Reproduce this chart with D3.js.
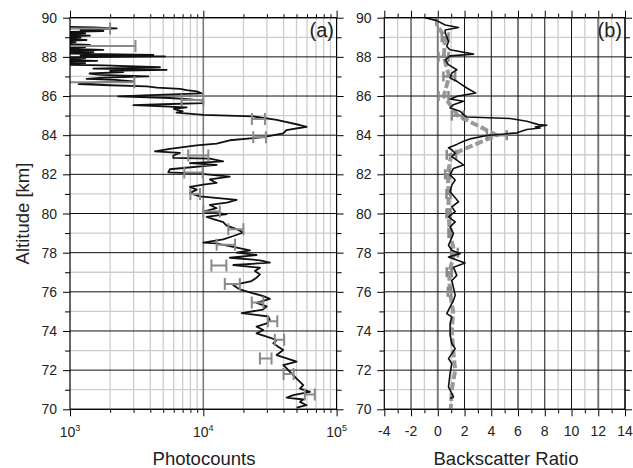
<!DOCTYPE html>
<html>
<head>
<meta charset="utf-8">
<script src="https://cdn.jsdelivr.net/npm/d3@7"></script>
<style>
  body { margin: 0; background: #fff; }
  text { font-family: Arial, "Liberation Sans", sans-serif; fill: #222; }
</style>
</head>
<body>
<svg id="chart" width="633" height="468"></svg>
<script>
// panel (a): photocount profile
const altA = [
  89.55, 89.5, 89.45, 89.38, 89.32, 89.25, 89.2, 89.13, 89.08, 89.02,
  88.98, 88.92, 88.86, 88.8, 88.75, 88.68, 88.61, 88.55, 88.5, 88.44,
  88.36, 88.3, 88.24, 88.17, 88.1, 88.06, 88.02, 87.97, 87.93, 87.86,
  87.8, 87.76, 87.68, 87.62, 87.56, 87.47, 87.4, 87.34, 87.28, 87.22,
  87.15, 87.08, 87.0, 86.94, 86.88, 86.82, 86.75, 86.68, 86.61, 86.55,
  86.49, 86.43, 86.37, 86.3, 86.24, 86.14, 86.05, 85.98, 85.9, 85.83,
  85.76, 85.64, 85.58, 85.53, 85.42, 85.35, 85.29, 85.22, 85.15, 85.04,
  84.96, 84.78, 84.52, 84.43, 84.26, 84.09, 83.9, 83.74, 83.57, 83.48,
  83.3, 83.17, 83.1, 82.96, 82.84, 82.8, 82.66, 82.57, 82.48, 82.26,
  82.1, 82.05, 81.88, 81.74, 81.56, 81.48, 81.36, 81.22, 81.04, 80.87,
  80.7, 80.56, 80.44, 80.27, 80.1, 79.97, 79.83, 79.71, 79.56, 79.38,
  79.2, 79.03, 78.85, 78.68, 78.51, 78.47, 78.43, 78.29, 78.12, 78.0,
  77.88, 77.74, 77.61, 77.49, 77.37, 77.23, 77.06, 76.89, 76.72, 76.55,
  76.34, 76.12, 75.95, 75.78, 75.64, 75.44, 75.26, 75.09, 74.91, 74.74,
  74.56, 74.39, 74.22, 74.05, 73.88, 73.71, 73.54, 73.37, 73.2, 73.03,
  72.77, 72.6, 72.43, 72.26, 72.09, 71.91, 71.74, 71.57, 71.4, 71.23,
  71.06, 70.89, 70.72, 70.6, 70.5, 70.38, 70.21, 70.09
];
const countsA = [
  800, 1500, 2240, 1200, 1780, 700, 1300, 700, 1410, 700,
  1200, 700, 1330, 700, 1100, 700, 1410, 900, 1300, 700,
  1780, 800, 1500, 900, 4220, 1200, 5160, 800, 1300, 700,
  1600, 800, 1300, 700, 1800, 4730, 1500, 5310, 2000, 2510,
  1400, 1680, 3870, 1800, 1330, 2200, 2990, 1500, 1160, 2000,
  3760, 4500, 6680, 7500, 8910, 9720, 4000, 2300, 5620, 8000,
  10000, 10000, 5000, 2990, 7500, 6000, 6310, 7000, 6300, 10000,
  23700, 35500, 53000, 59600, 42000, 39800, 28200, 15800, 12600, 8900,
  5600, 4340, 6680, 5960, 5960, 11200, 14100, 7940, 12600, 5620,
  5460, 8910, 15800, 11200, 12600, 10000, 7940, 8910, 7940, 9440,
  17800, 15000, 11200, 12600, 10000, 14960, 10600, 11900, 14100, 14960,
  17800, 19950, 16800, 14100, 10000, 12600, 13300, 16800, 22400, 17800,
  25100, 15800, 26600, 31600, 16800, 26600, 24400, 26600, 25100, 23000,
  16800, 18800, 23000, 28200, 31600, 25100, 29900, 28000, 19400, 30700,
  31600, 29900, 25100, 28200, 25100, 29900, 35500, 33500, 36500, 39800,
  35500, 42200, 50100, 39800, 42200, 44700, 47300, 50100, 53100, 56200,
  53100, 63100, 47300, 42200, 56200, 53100, 59600, 50100
];

// panel (a): error bars
const errAltA = [89.45, 88.55, 86.7, 85.8, 84.83, 83.9, 82.96, 82.1, 81.0, 80.1,
                 79.2, 78.4, 77.35, 76.4, 75.45, 74.5, 73.55, 72.6, 71.8, 70.75];
const errLoA = [500, 500, 500, 6870, 23130, 23700, 7700, 7200, 8000, 10000,
                15400, 12600, 11500, 14500, 23100, 30500, 34400, 26600, 40000, 57800];
const errHiA = [2000, 3100, 3040, 10000, 29000, 29500, 10900, 9900, 9440, 13300,
                20000, 17300, 14900, 18800, 28200, 35900, 40400, 32500, 47600, 68600];

// panel (b): backscatter ratio
const altB = [
  90, 89.85, 89.63, 89.5, 89.37, 89.24, 89.03, 88.78, 88.53, 88.36,
  88.14, 88.05, 87.85, 87.6, 87.34, 87.17, 86.92, 86.75, 86.41, 86.15,
  85.98, 85.85, 85.73, 85.56, 85.39, 85.22, 85.05, 84.93, 84.85, 84.71,
  84.54, 84.51, 84.42, 84.37, 84.29, 84.12, 83.98, 83.81, 83.69, 83.53,
  83.36, 83.25, 83.08, 82.9, 82.48, 82.3, 81.97, 81.71, 81.45, 81.11,
  80.6, 80.34, 80.09, 79.83, 79.57, 79.32, 78.97, 78.38, 78.12, 77.95,
  77.78, 77.47, 77.26, 76.84, 76.58, 75.83, 75.55, 75.23, 74.89, 74.72,
  74.38, 73.79, 73.36, 73.1, 72.59, 72.34, 71.83, 71.14, 70.63, 70.55
];
const ratioB = [
  -0.95, -0.07, 0.55, 1.55, 0.55, 0.55, 0.67, 0.8, 0.67, 0.92,
  2.67, 0.92, 0.55, 0.8, 1.42, 1.05, 0.92, 1.42, 2.17, 2.84,
  1.42, 0.92, 1.92, 1.17, 0.92, 1.67, 1.92, 2.17, 5.41, 6.66,
  7.53, 8.15, 7.28, 7.66, 6.66, 5.91, 3.67, 2.42, 1.92, 1.42,
  0.8, 1.05, 1.3, 1.05, 1.92, 1.17, 0.92, 1.3, 1.05, 0.92,
  1.55, 1.05, 1.3, 0.8, 1.3, 0.92, 1.17, 0.8, 1.05, 1.67,
  0.8, 2.04, 1.17, 1.42, 1.05, 1.3, 1.17, 0.92, 0.67, 1.05,
  0.92, 0.92, 1.05, 1.3, 0.8, 1.05, 0.92, 0.8, 1.17, 0.92
];

// panel (b): gray reference profile and its error bars
const grayAlt = [90, 89.6, 89, 88, 87, 86, 85, 84, 83, 82, 81, 80, 79, 78, 77, 76, 75, 74, 73, 72, 71, 70];
const grayRatio = [-0.1, -0.05, 0.55, 0.45, 0.85, 0.45, 1.5, 4.4, 1.0, 0.75, 0.8, 0.8, 0.9, 1.25, 0.85, 0.9, 1.15, 1.05, 1.15, 1.3, 1.05, 0.97];
const gErrAlt = [89, 88, 87, 86, 85, 84, 83, 82, 81, 80, 79, 78, 77, 76];
const gErrLo = [0.3, 0.05, 0.42, 0.05, 1.05, 3.67, 0.67, 0.55, 0.65, 0.65, 0.8, 1.0, 0.67, 0.75];
const gErrHi = [0.8, 0.8, 1.3, 0.8, 1.92, 5.16, 1.37, 0.92, 0.95, 0.95, 1.0, 1.5, 1.05, 1.0];

// axis ticks
const kmMajor = [70, 72, 74, 76, 78, 80, 82, 84, 86, 88, 90];
const kmMinor = [71, 73, 75, 77, 79, 81, 83, 85, 87, 89];
const logMajor = [1e3, 1e4, 1e5];
const logExp = ["3", "4", "5"];
const logMinor = [2e3, 3e3, 4e3, 5e3, 6e3, 7e3, 8e3, 9e3, 2e4, 3e4, 4e4, 5e4, 6e4, 7e4, 8e4, 9e4];
const ratioMajor = [-4, -2, 0, 2, 4, 6, 8, 10, 12, 14];
const ratioMinor = [-3, -1, 1, 3, 5, 7, 9, 11, 13];

const svg = d3.select("#chart");
const top0 = 17.7, bot0 = 409.3;
const y = d3.scaleLinear().domain([70, 90]).range([bot0, top0]);
const xa = d3.scaleLog().domain([1e3, 1e5]).range([70, 336.6]);
const xb = d3.scaleLinear().domain([-4, 14]).range([384.3, 625]);

function hline(g, vals, x0, x1, color, w) {
  g.selectAll(null).data(vals).enter().append("line")
    .attr("x1", x0).attr("x2", x1)
    .attr("y1", d => y(d)).attr("y2", d => y(d))
    .attr("stroke", color).attr("stroke-width", w);
}
function vline(g, vals, x, color, w) {
  g.selectAll(null).data(vals).enter().append("line")
    .attr("x1", d => x(d)).attr("x2", d => x(d))
    .attr("y1", top0).attr("y2", bot0)
    .attr("stroke", color).attr("stroke-width", w);
}
function ticks(axisFn, scale, vals, size, tx, ty) {
  const g = svg.append("g").attr("transform", `translate(${tx},${ty})`)
    .call(axisFn(scale).tickValues(vals).tickSize(size).tickSizeOuter(0).tickFormat(""));
  g.select(".domain").remove();
  g.selectAll(".tick line").attr("stroke", "#000");
}

// ---- grids ----
const gridA = svg.append("g");
vline(gridA, logMinor, xa, "#cdcdcd", 1.3);
hline(gridA, kmMinor, 70, 336.6, "#cdcdcd", 1.3);
vline(gridA, [1e4], xa, "#7c7c7c", 1.6);
hline(gridA, kmMajor, 70, 336.6, "#111", 1);

const gridB = svg.append("g");
vline(gridB, ratioMinor, xb, "#cdcdcd", 1.3);
hline(gridB, kmMinor, 384.3, 625, "#cdcdcd", 1.3);
vline(gridB, [-2, 2, 4, 8, 10, 14], xb, "#111", 1);
vline(gridB, [0, 6, 12], xb, "#7c7c7c", 2);
hline(gridB, kmMajor, 384.3, 625, "#111", 1);

// ---- panel (a) data ----
svg.append("clipPath").attr("id", "clipA").append("rect")
  .attr("x", 70).attr("y", top0).attr("width", 336.6 - 70).attr("height", bot0 - top0);

const dataA = altA.map((a, i) => ({ alt: a, v: countsA[i] }));
const errA = errAltA.map((a, i) => ({ alt: a, lo: errLoA[i], hi: errHiA[i] }));
const pa = svg.append("g").attr("clip-path", "url(#clipA)");

pa.append("path")
  .datum(dataA)
  .attr("fill", "none")
  .attr("stroke", "#111")
  .attr("stroke-width", 1.8)
  .attr("stroke-linejoin", "round")
  .attr("d", d3.line().x(d => xa(d.v)).y(d => y(d.alt)));

const ea = pa.selectAll(".errA").data(errA).enter().append("g").attr("class", "errA")
  .attr("stroke", "#8a8a8a").attr("stroke-width", 2);
ea.append("line").attr("x1", d => xa(d.lo)).attr("x2", d => xa(d.hi))
  .attr("y1", d => y(d.alt)).attr("y2", d => y(d.alt));
ea.append("line").attr("x1", d => xa(d.lo)).attr("x2", d => xa(d.lo))
  .attr("y1", d => y(d.alt) - 6).attr("y2", d => y(d.alt) + 6);
ea.append("line").attr("x1", d => xa(d.hi)).attr("x2", d => xa(d.hi))
  .attr("y1", d => y(d.alt) - 6).attr("y2", d => y(d.alt) + 6);

// ---- panel (b) data ----
const grayB = grayAlt.map((a, i) => ({ alt: a, v: grayRatio[i] }));
const errB = gErrAlt.map((a, i) => ({ alt: a, lo: gErrLo[i], hi: gErrHi[i] }));
const dataB = altB.map((a, i) => ({ alt: a, v: ratioB[i] }));

svg.append("path")
  .datum(grayB)
  .attr("fill", "none")
  .attr("stroke", "#9a9a9a")
  .attr("stroke-width", 4)
  .attr("stroke-dasharray", "8,3")
  .attr("d", d3.line().x(d => xb(d.v)).y(d => y(d.alt)));

const eb = svg.selectAll(".errB").data(errB).enter().append("g").attr("class", "errB")
  .attr("stroke", "#8a8a8a").attr("stroke-width", 2.5);
eb.append("line").attr("x1", d => xb(d.lo)).attr("x2", d => xb(d.hi))
  .attr("y1", d => y(d.alt)).attr("y2", d => y(d.alt));
eb.append("line").attr("x1", d => xb(d.lo)).attr("x2", d => xb(d.lo))
  .attr("y1", d => y(d.alt) - 5).attr("y2", d => y(d.alt) + 5);
eb.append("line").attr("x1", d => xb(d.hi)).attr("x2", d => xb(d.hi))
  .attr("y1", d => y(d.alt) - 5).attr("y2", d => y(d.alt) + 5);

svg.append("path")
  .datum(dataB)
  .attr("fill", "none")
  .attr("stroke", "#111")
  .attr("stroke-width", 1.6)
  .attr("stroke-linejoin", "round")
  .attr("d", d3.line().x(d => xb(d.v)).y(d => y(d.alt)));

// ---- frames and ticks ----
[[70, 336.6], [384.3, 625]].forEach(([l, r]) => {
  svg.append("rect").attr("x", l).attr("y", top0).attr("width", r - l).attr("height", bot0 - top0)
    .attr("fill", "none").attr("stroke", "#000").attr("stroke-width", 1.2);
  ticks(d3.axisLeft, y, kmMajor, 7, l, 0);
  ticks(d3.axisLeft, y, kmMinor, 5, l, 0);
  ticks(d3.axisRight, y, kmMajor, 7, r, 0);
  ticks(d3.axisRight, y, kmMinor, 5, r, 0);
});
ticks(d3.axisBottom, xa, logMajor, 7, 0, bot0);
ticks(d3.axisBottom, xa, logMinor, 3.5, 0, bot0);
ticks(d3.axisTop, xa, logMajor, 7, 0, top0);
ticks(d3.axisTop, xa, logMinor, 3.5, 0, top0);
ticks(d3.axisBottom, xb, ratioMajor, 7, 0, bot0);
ticks(d3.axisBottom, xb, ratioMinor, 4, 0, bot0);
ticks(d3.axisTop, xb, ratioMajor, 7, 0, top0);
ticks(d3.axisTop, xb, ratioMinor, 4, 0, top0);

// ---- labels ----
[57, 371.5].forEach(lx => {
  svg.selectAll(null).data(kmMajor).enter().append("text")
    .attr("x", lx).attr("y", d => y(d) + 5)
    .attr("text-anchor", "end").attr("font-size", 14)
    .text(d => d);
});

const la = svg.selectAll(null).data(logMajor).enter().append("text")
  .attr("x", d => xa(d)).attr("y", 437)
  .attr("text-anchor", "middle").attr("font-size", 14);
la.append("tspan").text("10");
la.append("tspan").attr("dy", -6).attr("font-size", 9).text((d, i) => logExp[i]);

svg.selectAll(null).data(ratioMajor).enter().append("text")
  .attr("x", d => xb(d)).attr("y", 436)
  .attr("text-anchor", "middle").attr("font-size", 14)
  .text(d => d);

svg.append("text").attr("x", 204).attr("y", 465).attr("text-anchor", "middle")
  .attr("font-size", 18.5).text("Photocounts");
svg.append("text").attr("x", 506).attr("y", 465).attr("text-anchor", "middle")
  .attr("font-size", 18.5).text("Backscatter Ratio");
svg.append("text").attr("transform", `translate(29,${(top0 + bot0) / 2}) rotate(-90)`)
  .attr("text-anchor", "middle").attr("font-size", 18.5).text("Altitude [km]");

svg.append("text").attr("x", 334).attr("y", 37).attr("text-anchor", "end")
  .attr("font-size", 20).text("(a)");
svg.append("text").attr("x", 622).attr("y", 37).attr("text-anchor", "end")
  .attr("font-size", 20).text("(b)");
</script>
</body>
</html>
